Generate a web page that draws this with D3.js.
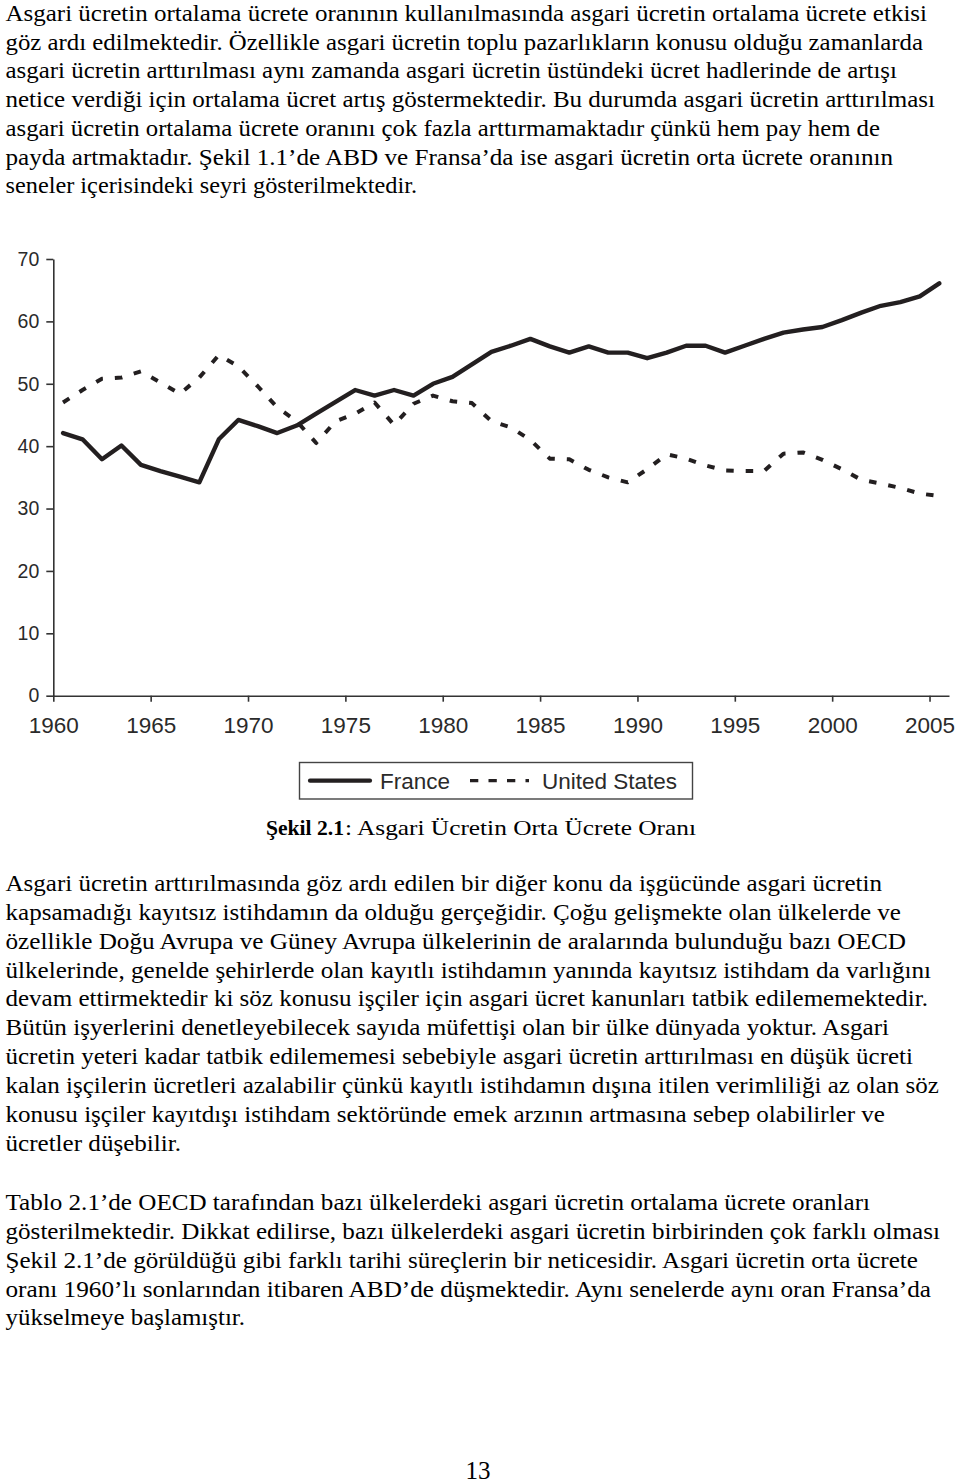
<!DOCTYPE html>
<html>
<head>
<meta charset="utf-8">
<script src="https://cdn.jsdelivr.net/npm/d3@7"></script>
<style>
  html, body { margin: 0; padding: 0; background: #fff; }
  svg { display: block; }
</style>
</head>
<body>
<svg id="page" width="960" height="1482"></svg>
<script>
// ---------- data ----------
const years = [1960,1961,1962,1963,1964,1965,1966,1967,1968,1969,
               1970,1971,1972,1973,1974,1975,1976,1977,1978,1979,
               1980,1981,1982,1983,1984,1985,1986,1987,1988,1989,
               1990,1991,1992,1993,1994,1995,1996,1997,1998,1999,
               2000,2001,2002,2003,2004,2005];
const france = [42.1,41.1,37.9,40.1,37.0,36.0,35.1,34.2,41.1,44.2,
                43.2,42.1,43.3,45.2,47.1,49.0,48.1,49.0,48.1,50.0,
                51.1,53.1,55.1,56.1,57.2,56.0,55.0,56.0,55.0,55.0,
                54.1,55.0,56.1,56.1,55.0,56.1,57.2,58.2,58.7,59.1,
                60.2,61.4,62.5,63.1,64.0,66.1];
const unitedStates = [47.0,49.0,50.8,51.0,52.0,50.2,48.4,51.0,54.6,52.8,
                      49.6,46.2,44.0,40.5,44.0,45.2,47.0,43.4,46.8,48.1,
                      47.2,46.9,44.0,43.0,41.0,38.0,37.9,36.2,35.0,34.2,
                      36.3,38.7,38.0,36.9,36.1,36.0,36.0,38.8,39.0,37.8,
                      36.3,34.6,34.0,33.3,32.4,32.0];
const yTicks = [0,10,20,30,40,50,60,70];
const xTicks = [1960,1965,1970,1975,1980,1985,1990,1995,2000,2005];
const seriesNames = ["France", "United States"];

const topLines = [
  "Asgari ücretin ortalama ücrete oranının kullanılmasında asgari ücretin ortalama ücrete etkisi",
  "göz ardı edilmektedir. Özellikle asgari ücretin toplu pazarlıkların konusu olduğu zamanlarda",
  "asgari ücretin arttırılması aynı zamanda asgari ücretin üstündeki ücret hadlerinde de artışı",
  "netice verdiği için ortalama ücret artış göstermektedir. Bu durumda asgari ücretin arttırılması",
  "asgari ücretin ortalama ücrete oranını çok fazla arttırmamaktadır çünkü hem pay hem de",
  "payda artmaktadır. Şekil 1.1’de ABD ve Fransa’da ise asgari ücretin orta ücrete oranının",
  "seneler içerisindeki seyri gösterilmektedir."
];
const midLines = [
  "Asgari ücretin arttırılmasında göz ardı edilen bir diğer konu da işgücünde asgari ücretin",
  "kapsamadığı kayıtsız istihdamın da olduğu gerçeğidir. Çoğu gelişmekte olan ülkelerde ve",
  "özellikle Doğu Avrupa ve Güney Avrupa ülkelerinin de aralarında bulunduğu bazı OECD",
  "ülkelerinde, genelde şehirlerde olan kayıtlı istihdamın yanında kayıtsız istihdam da varlığını",
  "devam ettirmektedir ki söz konusu işçiler için asgari ücret kanunları tatbik edilememektedir.",
  "Bütün işyerlerini denetleyebilecek sayıda müfettişi olan bir ülke dünyada yoktur. Asgari",
  "ücretin yeteri kadar tatbik edilememesi sebebiyle asgari ücretin arttırılması en düşük ücreti",
  "kalan işçilerin ücretleri azalabilir çünkü kayıtlı istihdamın dışına itilen verimliliği az olan söz",
  "konusu işçiler kayıtdışı istihdam sektöründe emek arzının artmasına sebep olabilirler ve",
  "ücretler düşebilir."
];
const lastLines = [
  "Tablo 2.1’de OECD tarafından bazı ülkelerdeki asgari ücretin ortalama ücrete oranları",
  "gösterilmektedir. Dikkat edilirse, bazı ülkelerdeki asgari ücretin birbirinden çok farklı olması",
  "Şekil 2.1’de görüldüğü gibi farklı tarihi süreçlerin bir neticesidir. Asgari ücretin orta ücrete",
  "oranı 1960’lı sonlarından itibaren ABD’de düşmektedir. Aynı senelerde aynı oran Fransa’da",
  "yükselmeye başlamıştır."
];
const captionBold = "Şekil 2.1";
const captionRest = ": Asgari Ücretin Orta Ücrete Oranı";
const pageNumber = "13";

// ---------- layout (not data) ----------
const topEnds  = [927, 923, 897, 935, 880, 893, 417];
const midEnds  = [882, 901, 906, 931, 928, 889, 913, 939, 885, 181];
const lastEnds = [870, 940, 918, 931, 245];

// pick an installed Times-like serif
function pickSerif() {
  const c = document.createElement("canvas").getContext("2d");
  const probe = "Asgari ücretin ortalama WWmmii 2005";
  c.font = "40px monospace"; const mono = c.measureText(probe).width;
  c.font = "40px 'DejaVu Serif'"; const dv = c.measureText(probe).width;
  const cands = ["Liberation Serif", "Times New Roman", "Tinos", "Times", "Nimbus Roman", "Noto Serif"];
  for (const f of cands) {
    c.font = `40px '${f}', monospace`;
    const w = c.measureText(probe).width;
    if (Math.abs(w - mono) > 0.5 && Math.abs(w - dv) > 0.5) return `'${f}', serif`;
  }
  return "'Liberation Serif', 'Times New Roman', serif";
}
const serif = pickSerif();
const sans = "'Liberation Sans', Arial, Helvetica, sans-serif";

const svg = d3.select("#page");
svg.append("rect").attr("width", 960).attr("height", 1482).attr("fill", "#fff");

function paragraph(lines, ends, firstBaseline, step) {
  const g = svg.append("g").attr("font-family", serif).attr("font-size", 23).attr("fill", "#000");
  g.selectAll("text").data(lines).join("text")
    .attr("x", 5.5)
    .attr("y", (d, i) => firstBaseline + i * step)
    .attr("textLength", (d, i) => ends[i] - 5.5)
    .attr("lengthAdjust", "spacingAndGlyphs")
    .text(d => d);
}
paragraph(topLines, topEnds, 20.8, 28.75);
paragraph(midLines, midEnds, 891, 28.85);
paragraph(lastLines, lastEnds, 1210, 28.85);

// ---------- chart ----------
const x = d3.scaleLinear().domain([1960, 2006]).range([53.3, 949]);
const y = d3.scaleLinear().domain([0, 70]).range([695.7, 259]);
const ink = "#231f20";

const yAxis = svg.append("g")
  .attr("transform", `translate(${x(1960)},0)`)
  .call(d3.axisLeft(y).tickValues(yTicks).tickSize(7).tickPadding(7).tickSizeOuter(0));
yAxis.selectAll("path, line").attr("stroke", "#333").attr("stroke-width", 1.6);
yAxis.selectAll("text").attr("font-family", sans).attr("font-size", 19.5).attr("fill", "#2a2a2a");

const xAxis = svg.append("g")
  .attr("transform", `translate(0,${y(0)})`)
  .call(d3.axisBottom(x).tickValues(xTicks).tickFormat(d3.format("d")).tickSize(6).tickPadding(15).tickSizeOuter(0));
xAxis.selectAll("path, line").attr("stroke", "#333").attr("stroke-width", 1.6);
xAxis.selectAll("text").attr("font-family", sans).attr("font-size", 22.5).attr("fill", "#2a2a2a");

const rows = years.map((yr, i) => ({ yr, fr: france[i], us: unitedStates[i] }));

const lineFr = d3.line().x(d => x(d.yr + 0.5)).y(d => y(d.fr));
const lineUs = d3.line().x(d => x(d.yr + 0.5)).y(d => y(d.us));

svg.append("path").datum(rows).attr("d", lineUs)
  .attr("fill", "none").attr("stroke", ink).attr("stroke-width", 4)
  .attr("stroke-dasharray", "7.5,12").attr("stroke-linejoin", "round");
svg.append("path").datum(rows).attr("d", lineFr)
  .attr("fill", "none").attr("stroke", ink).attr("stroke-width", 4.4)
  .attr("stroke-linejoin", "round").attr("stroke-linecap", "round");

// ---------- legend ----------
const leg = svg.append("g");
leg.append("rect").attr("x", 299.5).attr("y", 762.5).attr("width", 393).attr("height", 36.5)
  .attr("fill", "none").attr("stroke", "#444").attr("stroke-width", 1.4);
leg.append("line").attr("x1", 310).attr("x2", 370).attr("y1", 780.7).attr("y2", 780.7)
  .attr("stroke", ink).attr("stroke-width", 4.2).attr("stroke-linecap", "round");
leg.append("line").attr("x1", 470).attr("x2", 529).attr("y1", 780.7).attr("y2", 780.7)
  .attr("stroke", ink).attr("stroke-width", 3.2).attr("stroke-dasharray", "8.3,10.2");
leg.selectAll("text.lbl").data(seriesNames).join("text").attr("class", "lbl")
  .attr("x", (d, i) => i === 0 ? 380 : 542)
  .attr("y", 788.5)
  .attr("font-family", sans).attr("font-size", 22.5).attr("fill", "#2a2a2a")
  .text(d => d);

// ---------- caption ----------
svg.append("text").attr("x", 266).attr("y", 835)
  .attr("font-family", serif).attr("font-size", 22).attr("font-weight", "bold").attr("fill", "#000")
  .attr("textLength", 78).attr("lengthAdjust", "spacingAndGlyphs")
  .text(captionBold);
svg.append("text").attr("x", 345).attr("y", 835)
  .attr("font-family", serif).attr("font-size", 22).attr("fill", "#000")
  .attr("textLength", 351).attr("lengthAdjust", "spacingAndGlyphs")
  .text(captionRest);

// ---------- page number ----------
svg.append("text").attr("x", 478).attr("y", 1478.5).attr("text-anchor", "middle")
  .attr("font-family", serif).attr("font-size", 25).attr("fill", "#000").text(pageNumber);
</script>
</body>
</html>
